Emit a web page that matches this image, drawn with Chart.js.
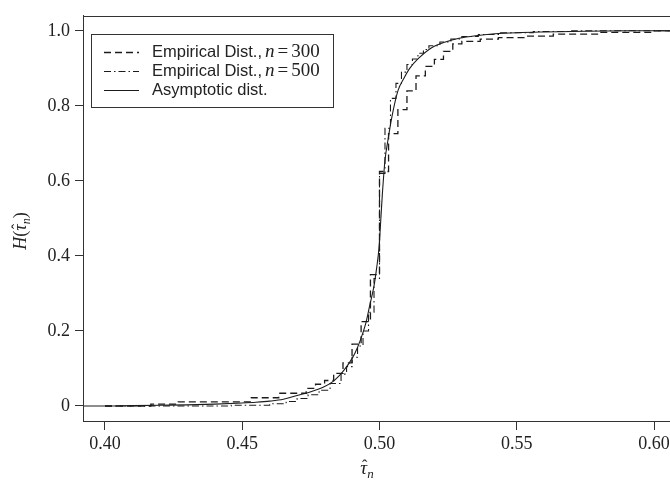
<!DOCTYPE html>
<html>
<head>
<meta charset="utf-8">
<title>H(tau_n)</title>
<script src="https://cdn.jsdelivr.net/npm/chart.js@4.4.0/dist/chart.umd.min.js"></script>
<style>
html,body{margin:0;padding:0;background:#fff;overflow:hidden;}
#wrap{width:700px;height:487px;}
</style>
</head>
<body>
<div id="wrap"><canvas id="cdf" width="700" height="487"></canvas></div>
<script>
// empirical dist n=300 : tau hat where the cdf jumps, and the level after the jump
var emp300X = [0.40,0.4167,0.4267,0.4533,0.4633,0.4733,0.4767,0.48,0.4833,0.4867,0.49,0.4933,0.4967,0.50,0.5033,0.5067,0.51,0.5133,0.5167,0.52,0.5233,0.5267,0.53,0.5367,0.5433,0.5533,0.5633,0.58,0.60,0.608];
var emp300Y = [0,0.005,0.011,0.022,0.034,0.047,0.058,0.068,0.087,0.115,0.165,0.225,0.35,0.625,0.726,0.79,0.84,0.88,0.905,0.924,0.945,0.965,0.972,0.978,0.982,0.986,0.991,0.996,1.0,1.0];
// empirical dist n=500
var emp500X = [0.40,0.446,0.46,0.466,0.47,0.474,0.478,0.482,0.486,0.488,0.49,0.492,0.494,0.496,0.498,0.50,0.502,0.504,0.506,0.508,0.51,0.512,0.514,0.516,0.518,0.522,0.526,0.53,0.536,0.544,0.556,0.57,0.608];
var emp500Y = [0,0.002,0.006,0.012,0.02,0.03,0.042,0.06,0.085,0.105,0.13,0.16,0.20,0.25,0.34,0.62,0.74,0.82,0.86,0.89,0.91,0.925,0.94,0.95,0.96,0.97,0.978,0.985,0.99,0.995,0.998,1.0,1.0];
// asymptotic dist
var asymX = [0.392,0.40,0.41,0.42,0.43,0.44,0.45,0.455,0.46,0.465,0.47,0.475,0.48,0.483,0.485,0.487,0.489,0.491,0.493,0.495,0.4965,0.498,0.499,0.4998,0.5005,0.501,0.502,0.503,0.5045,0.5067,0.509,0.511,0.514,0.519,0.524,0.529,0.535,0.542,0.55,0.56,0.575,0.59,0.608];
var asymY = [0,0,0.001,0.002,0.003,0.005,0.008,0.01,0.013,0.018,0.028,0.038,0.052,0.065,0.078,0.095,0.115,0.14,0.175,0.22,0.27,0.32,0.37,0.42,0.50,0.56,0.655,0.705,0.77,0.84,0.875,0.90,0.925,0.955,0.97,0.98,0.987,0.992,0.995,0.997,0.999,1.0,1.0];

var xTicks = [0.40,0.45,0.50,0.55,0.60];
var yTicks = [0,0.2,0.4,0.6,0.8,1.0];
var yTickLabels = ['0','0.2','0.4','0.6','0.8','1.0'];
var legendText = ['Empirical Dist.,','Empirical Dist.,','Asymptotic dist.'];
var legendN = ['300','500',''];

var ink = '#1c1c1c';
var serif = '"Liberation Serif", "DejaVu Serif", serif';

function pts(xs, ys){
  var out = [];
  for(var i=0;i<xs.length;i++) out.push({x:xs[i], y:ys[i]});
  return out;
}

// box round the plot, like R's box()
var boxPlugin = {
  id:'box',
  afterDraw:function(chart){
    var a = chart.chartArea, ctx = chart.ctx;
    ctx.save();
    ctx.strokeStyle = '#333';
    ctx.lineWidth = 1;
    ctx.strokeRect(Math.round(a.left)+0.5, Math.round(a.top)+0.5, Math.round(a.right-a.left), Math.round(a.bottom-a.top));
    ctx.restore();
  }
};

// draws a list of text pieces one after another
function drawPieces(ctx, pieces, cx, y){
  var w = 0;
  pieces.forEach(function(p){ ctx.font = p.f; p.w = ctx.measureText(p.t).width; w += p.w; });
  var x = cx - w/2;
  pieces.forEach(function(p){
    ctx.font = p.f;
    ctx.fillText(p.t, x, y + (p.dy||0));
    if(p.hat){
      ctx.font = '16px ' + serif;
      var hw = ctx.measureText('\u02c6').width;
      ctx.fillText('\u02c6', x + p.w/2 - hw/2 + 1, y - 3);
    }
    x += p.w;
  });
}

var titlePlugin = {
  id:'titles',
  afterDraw:function(chart){
    var ctx = chart.ctx;
    ctx.save();
    ctx.fillStyle = '#222';
    ctx.textBaseline = 'alphabetic';
    ctx.textAlign = 'left';
    // x title
    drawPieces(ctx, [
      {t:'\u03c4', f:'italic 19px '+serif, hat:true},
      {t:'n', f:'italic 13px '+serif, dy:4}
    ], 367, 474);
    // y title
    ctx.translate(26, 231);
    ctx.rotate(-Math.PI/2);
    drawPieces(ctx, [
      {t:'H', f:'italic 18px '+serif},
      {t:'(', f:'18px '+serif},
      {t:'\u03c4', f:'italic 18px '+serif, hat:true},
      {t:'n', f:'italic 12px '+serif, dy:4},
      {t:')', f:'18px '+serif}
    ], 0, 0);
    ctx.restore();
  }
};

var legendPlugin = {
  id:'rlegend',
  afterDraw:function(chart){
    var ctx = chart.ctx;
    ctx.save();
    ctx.strokeStyle = '#333';
    ctx.lineWidth = 1;
    ctx.strokeRect(91.5, 34.5, 242, 73);
    var rows = [52, 71, 90];
    chart.data.datasets.forEach(function(ds, i){
      var y = rows[i];
      ctx.strokeStyle = ink;
      ctx.lineWidth = ds.borderWidth;
      ctx.setLineDash(ds.borderDash || []);
      ctx.beginPath();
      ctx.moveTo(104, y+0.5);
      ctx.lineTo(139, y+0.5);
      ctx.stroke();
      ctx.setLineDash([]);
      ctx.fillStyle = '#222';
      ctx.textBaseline = 'middle';
      ctx.font = '16.5px "Liberation Sans", Arial, sans-serif';
      ctx.fillText(legendText[i], 152, y);
      if(legendN[i]){
        var x = 152 + ctx.measureText(legendText[i]).width + 3;
        ctx.font = 'italic 19px ' + serif;
        ctx.fillText('n', x, y);
        x += ctx.measureText('n').width + 3;
        ctx.font = '19px ' + serif;
        ctx.fillText('=', x, y);
        x += ctx.measureText('=').width + 3;
        ctx.fillText(legendN[i], x, y);
      }
    });
    ctx.restore();
  }
};

new Chart(document.getElementById('cdf'), {
  type:'line',
  data:{
    datasets:[
      {label:'Empirical Dist., n=300', data:pts(emp300X, emp300Y), stepped:true, borderColor:ink, borderWidth:1.3, borderDash:[7,4], pointRadius:0, fill:false},
      {label:'Empirical Dist., n=500', data:pts(emp500X, emp500Y), stepped:true, borderColor:ink, borderWidth:1.1, borderDash:[7,3,1.5,3], pointRadius:0, fill:false},
      {label:'Asymptotic dist.', data:pts(asymX, asymY), borderColor:ink, borderWidth:1.1, cubicInterpolationMode:'monotone', pointRadius:0, fill:false}
    ]
  },
  options:{
    responsive:false,
    animation:false,
    layout:{padding:{top:12, right:24, left:0, bottom:0}},
    plugins:{legend:{display:false}, tooltip:{enabled:false}},
    scales:{
      x:{
        type:'linear', min:0.392, max:0.608,
        afterBuildTicks:function(s){ s.ticks = xTicks.map(function(v){ return {value:v}; }); },
        afterFit:function(s){ s.height = 66; },
        ticks:{callback:function(v){ return v.toFixed(2); }, font:{family:serif, size:18}, color:'#222', padding:3, maxRotation:0, autoSkip:false},
        grid:{drawOnChartArea:false, drawTicks:true, tickLength:9, color:'#333'},
        border:{color:'#333'}
      },
      y:{
        type:'linear', min:-0.04, max:1.04,
        afterBuildTicks:function(s){ s.ticks = yTicks.map(function(v){ return {value:v}; }); },
        afterFit:function(s){ s.width = 83; },
        ticks:{callback:function(v, i){ return yTickLabels[i]; }, font:{family:serif, size:18}, color:'#222', padding:5, autoSkip:false},
        grid:{drawOnChartArea:false, drawTicks:true, tickLength:8, color:'#333'},
        border:{color:'#333'}
      }
    }
  },
  plugins:[boxPlugin, titlePlugin, legendPlugin]
});
</script>
</body>
</html>
